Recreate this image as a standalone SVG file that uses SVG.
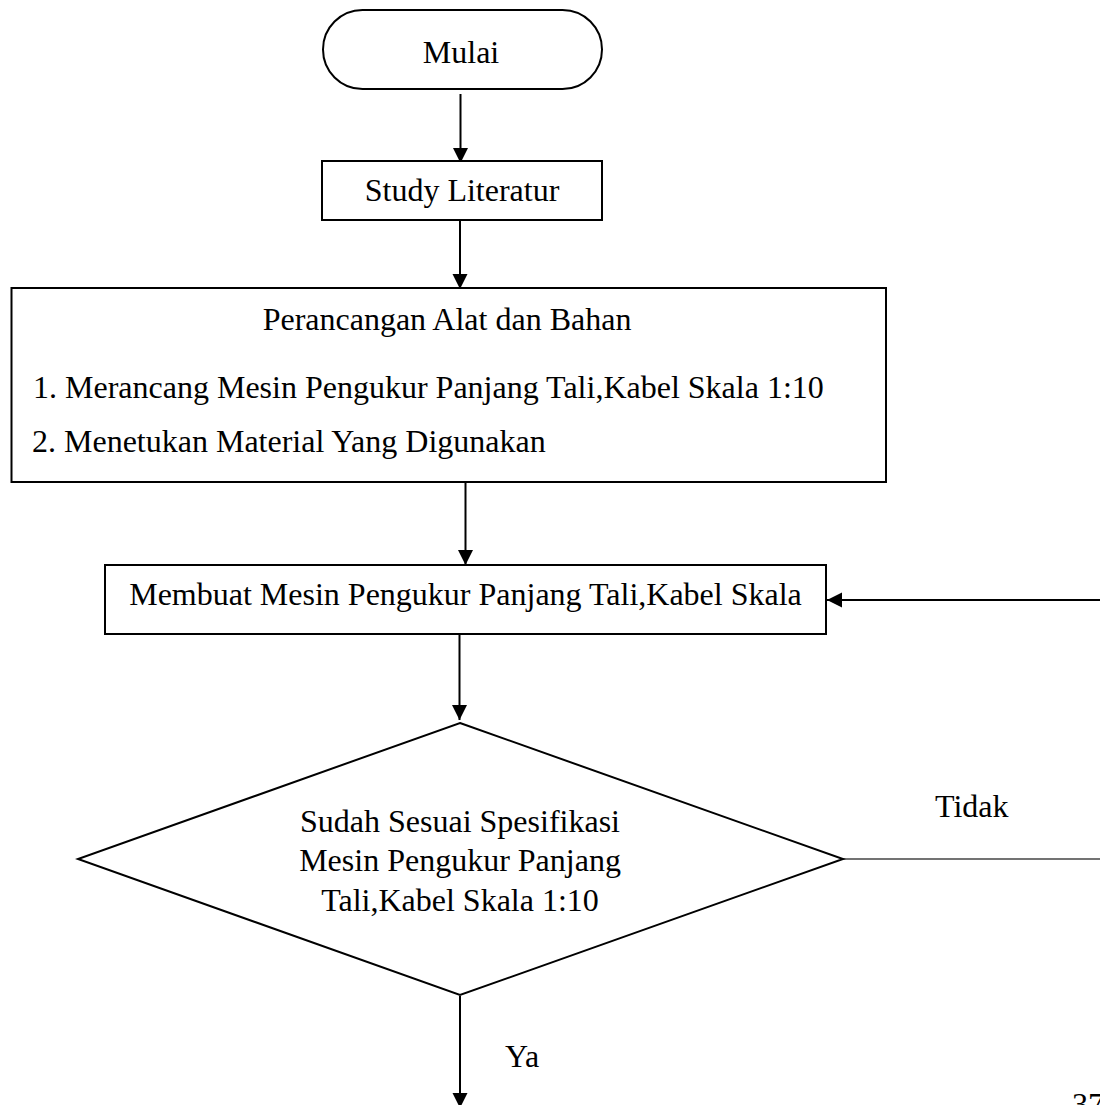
<svg xmlns="http://www.w3.org/2000/svg" width="1100" height="1105" viewBox="0 0 1100 1105">
<style>
  .shape { fill: #ffffff; stroke: #000000; stroke-width: 2; }
  .conn { fill: none; stroke: #000000; stroke-width: 2; }
  .thin { fill: none; stroke: #444444; stroke-width: 1.5; }
  text { font-family: "Liberation Serif", "Times New Roman", serif; font-size: 32px; fill: #000000; }
  .c { text-anchor: middle; }
</style>
<defs>
  <marker id="arrow" markerUnits="userSpaceOnUse" markerWidth="16" markerHeight="16" refX="15" refY="7.5" orient="auto">
    <path d="M0,0 L15,7.5 L0,15 z" fill="#000000"/>
  </marker>
</defs>
<rect x="0" y="0" width="1100" height="1105" fill="#ffffff"/>
<g id="connectors">
  <line class="conn" x1="460.5" y1="94" x2="460.5" y2="163" marker-end="url(#arrow)"/>
  <line class="conn" x1="460" y1="221" x2="460" y2="289" marker-end="url(#arrow)"/>
  <line class="conn" x1="465.5" y1="483" x2="465.5" y2="565" marker-end="url(#arrow)"/>
  <line class="conn" x1="459.5" y1="635" x2="459.5" y2="720" marker-end="url(#arrow)"/>
  <line class="thin" x1="843" y1="859" x2="1100" y2="859"/>
  <line class="conn" x1="1100" y1="600" x2="827" y2="600" marker-end="url(#arrow)"/>
  <line class="conn" x1="460" y1="996" x2="460" y2="1108" marker-end="url(#arrow)"/>
  <text x="935" y="817">Tidak</text>
  <text x="505" y="1067">Ya</text>
</g>
<g id="node-mulai">
  <rect class="shape" x="323" y="10" width="279" height="79" rx="39.5" ry="39.5"/>
  <text class="c" x="461" y="63">Mulai</text>
</g>
<g id="node-study">
  <rect class="shape" x="322" y="161" width="280" height="59"/>
  <text class="c" x="462" y="201">Study Literatur</text>
</g>
<g id="node-perancangan">
  <rect class="shape" x="11.5" y="288" width="874.5" height="194"/>
  <text class="c" x="447" y="330">Perancangan Alat dan Bahan</text>
  <text x="33" y="398">1. Merancang Mesin Pengukur Panjang Tali,Kabel Skala 1:10</text>
  <text x="32" y="452">2. Menetukan Material Yang Digunakan</text>
</g>
<g id="node-membuat">
  <rect class="shape" x="105" y="565" width="721" height="69"/>
  <text class="c" x="465.5" y="605">Membuat Mesin Pengukur Panjang Tali,Kabel Skala</text>
</g>
<g id="node-decision">
  <polygon class="shape" points="460,723 843,859 460,995 78,859"/>
  <text class="c" x="460" y="832">Sudah Sesuai Spesifikasi</text>
  <text class="c" x="460" y="871">Mesin Pengukur Panjang</text>
  <text class="c" x="460" y="911">Tali,Kabel Skala 1:10</text>
</g>
<text x="1072" y="1115">37</text>
</svg>
